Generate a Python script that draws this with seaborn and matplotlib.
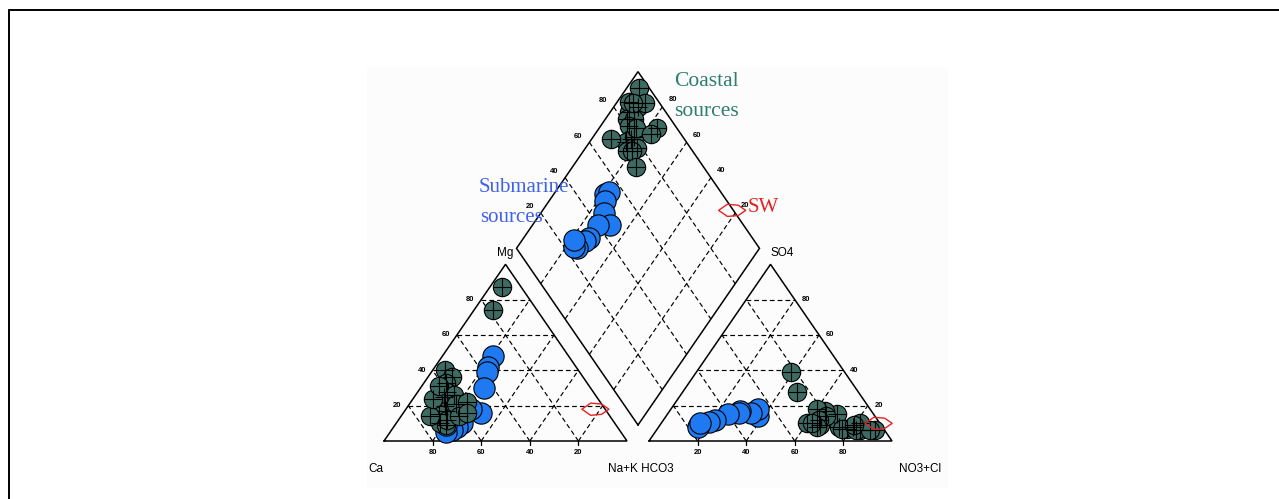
import numpy as np
import pandas as pd
import matplotlib
matplotlib.use("Agg")
import matplotlib.pyplot as plt
from matplotlib.path import Path
from matplotlib.lines import Line2D
from matplotlib.patches import Rectangle
import seaborn as sns

# ---------------------------------------------------------------------------
# Major-ion composition of the samples (% of meq/L)
# ---------------------------------------------------------------------------
coastal_ca   = [8, 18, 55, 54, 58, 60, 63, 58, 65, 66, 60, 70, 72, 70, 68, 62, 55, 74, 68, 62, 58]
coastal_mg   = [87, 74, 40, 36, 33, 28, 25, 26, 20, 17, 21, 15, 10, 9, 12, 14, 22, 14, 24, 31, 16]
coastal_nak  = [5, 8, 5, 10, 9, 12, 12, 16, 15, 17, 19, 15, 18, 21, 20, 24, 23, 12, 8, 7, 26]
coastal_hco3 = [4, 15, 12, 10, 18, 15, 19, 22, 25, 20, 24, 17, 27, 22, 25, 8, 12, 6, 30, 11, 28]
coastal_so4  = [6, 7, 8, 6, 8, 15, 17, 18, 9, 14, 12, 7, 8, 39, 28, 10, 6, 6, 10, 9, 10]
coastal_cl   = [90, 78, 80, 84, 74, 70, 64, 60, 66, 66, 64, 76, 65, 39, 47, 82, 82, 88, 60, 80, 62]

sub_ca   = [31, 36, 38, 44, 52, 55, 63, 66, 69, 72, 70]
sub_mg   = [48, 42, 39, 30, 16, 18, 10, 8, 6, 5, 9]
sub_nak  = [21, 22, 23, 26, 32, 27, 27, 26, 25, 23, 21]
sub_hco3 = [48, 46, 50, 54, 55, 60, 67, 70, 75, 76, 74]
sub_so4  = [14, 18, 16, 17, 16, 15, 12, 11, 9, 8, 10]
sub_cl   = [38, 36, 34, 29, 29, 25, 21, 19, 16, 16, 16]

# seawater reference composition
sw_mg, sw_nak = [18], [78]
sw_so4, sw_cl = [10], [89.5]

grid_values = [20, 40, 60, 80]

# ---------------------------------------------------------------------------
# Piper geometry
# ---------------------------------------------------------------------------
SQ = np.sqrt(3) / 2
GAP = 22 / 243
LX, LY = 0.5 + GAP / 2, SQ * (1 + GAP)          # left vertex of the diamond


def cation_xy(mg, nak):
    mg, nak = np.asarray(mg) / 100, np.asarray(nak) / 100
    return nak + 0.5 * mg, SQ * mg


def anion_xy(so4, cl):
    so4, cl = np.asarray(so4) / 100, np.asarray(cl) / 100
    return 1 + GAP + cl + 0.5 * so4, SQ * so4


def diamond_xy(nak, so4, cl):
    p = np.asarray(nak) / 100
    q = (np.asarray(so4) + np.asarray(cl)) / 100
    return LX + 0.5 * (p + q), LY + SQ * (q - p)


def project(group, mg, nak, so4, cl):
    rows = []
    for fn, args in ((cation_xy, (mg, nak)), (anion_xy, (so4, cl)),
                     (diamond_xy, (nak, so4, cl))):
        x, y = fn(*args)
        rows.append(pd.DataFrame({"x": x, "y": y, "group": group}))
    return pd.concat(rows, ignore_index=True)


coastal = project("Coastal", coastal_mg, coastal_nak, coastal_so4, coastal_cl)
submarine = project("Submarine", sub_mg, sub_nak, sub_so4, sub_cl)
seawater = project("SW", sw_mg, sw_nak, sw_so4, sw_cl)

# ---------------------------------------------------------------------------
# Figure: 1279 x 499 px, one axes in Piper units over the whole canvas
# ---------------------------------------------------------------------------
sns.set_style("white")
plt.rcParams["font.family"] = ["Liberation Sans", "DejaVu Sans"]

W, H = 1279, 499
X0, SX = 384, 243          # pixel of x=0, pixels per unit
Y0, SY = 441, 204          # pixel row of y=0, pixels per unit

fig = plt.figure(figsize=(W / 100, H / 100), dpi=100)
ax = fig.add_axes([0, 0, 1, 1])
ax.set_xlim(-X0 / SX, (W - X0) / SX)
ax.set_ylim((Y0 - H) / SY, Y0 / SY)
ax.axis("off")


def px(xp, yp):
    return (xp - X0) / SX, (Y0 - yp) / SY


# outer frame (top and left rules) and the faint panel behind the diagram
fig.add_artist(Line2D([8.5 / W, 8.5 / W], [0, 1 - 10 / H], color="black", lw=1.4,
                      transform=fig.transFigure))
fig.add_artist(Line2D([8.5 / W, 1], [1 - 10 / H, 1 - 10 / H], color="black", lw=1.4,
                      transform=fig.transFigure))
fig.add_artist(Rectangle((367 / W, 1 - 488 / H), (948 - 367) / W, (488 - 67) / H,
                         transform=fig.transFigure, facecolor="#fcfcfc",
                         edgecolor="none", zorder=0))

edge_kw = dict(color="black", lw=1.1, zorder=2, solid_joinstyle="miter")
dash_kw = dict(color="black", lw=0.85, ls=(0, (4, 2.6)), zorder=1)

# triangle outlines
for off in (0, 1 + GAP):
    ax.plot([off, off + 1, off + 0.5, off], [0, 0, SQ, 0], **edge_kw)
# diamond outline
B = (1 + GAP / 2, GAP * SQ)
T = (1 + GAP / 2, SQ * (2 + GAP))
L = (LX, LY)
R = (1.5 + GAP / 2, LY)
ax.plot([B[0], L[0], T[0], R[0], B[0]], [B[1], L[1], T[1], R[1], B[1]], **edge_kw)

# dashed grid lines
for v in grid_values:
    t = v / 100
    for off in (0, 1 + GAP):
        ax.plot([off + 0.5 * t, off + 1 - 0.5 * t], [SQ * t, SQ * t], **dash_kw)
        ax.plot([off + t, off + t + 0.5 * (1 - t)], [0, SQ * (1 - t)], **dash_kw)
        ax.plot([off + 1 - t, off + 0.5 * (1 - t)], [0, SQ * (1 - t)], **dash_kw)
        # short ticks under the base
        ax.plot([off + t, off + t], [0, -0.018], color="black", lw=0.9)
    x1, y1 = diamond_xy([v, v], [0, 0], [0, 100])
    x2, y2 = diamond_xy([0, 100], [0, 0], [v, v])
    ax.plot(x1, y1, **dash_kw)
    ax.plot(x2, y2, **dash_kw)

# numeric scale labels
num_kw = dict(fontsize=5.5, fontweight="bold", ha="center", va="center", color="black")
for v in grid_values:
    t = v / 100
    # Mg scale on the left edge of the cation triangle
    ax.text(0.5 * t - 0.045, SQ * t, str(v), **num_kw)
    # Ca scale under the cation triangle
    ax.text(1 - t, -0.055, str(v), **num_kw)
    # Cl scale under the anion triangle
    ax.text(1 + GAP + t, -0.055, str(v), **num_kw)
    # SO4 scale on the right edge of the anion triangle
    ax.text(2 + GAP - 0.5 * t + 0.045, SQ * t, str(v), **num_kw)
    # diamond upper edges
    ax.text(L[0] + t * (T[0] - L[0]) - 0.045, L[1] + t * (T[1] - L[1]) + 0.03,
            str(v), **num_kw)
    u = 1 - t
    ax.text(T[0] + u * (R[0] - T[0]) + 0.042, T[1] + u * (R[1] - T[1]) + 0.035,
            str(v), **num_kw)

# corner labels
lab_kw = dict(fontsize=8.5, ha="center", va="center", color="black")
ax.text(*px(505, 253), "Mg", **lab_kw)
ax.text(*px(782, 253), "SO4", **lab_kw)
ax.text(*px(376, 469), "Ca", **lab_kw)
ax.text(*px(641, 469), "Na+K HCO3", **lab_kw)
ax.text(*px(920, 469), "NO3+Cl", **lab_kw)

# sample points
TEAL = "#3d6b63"
BLUE = "#1f7af2"
sns.scatterplot(data=submarine, x="x", y="y", color=BLUE, s=235, edgecolor="black",
                linewidth=0.8, legend=False, ax=ax, zorder=3)
sns.scatterplot(data=coastal, x="x", y="y", color=TEAL, s=175, edgecolor="black",
                linewidth=0.8, legend=False, ax=ax, zorder=4)
sns.scatterplot(data=coastal, x="x", y="y", color="black", marker="+", s=150,
                linewidth=0.8, legend=False, ax=ax, zorder=5)

# seawater marker
sw_marker = Path([(-1, 0), (-0.35, 0.45), (0.45, 0.38), (1, 0), (0.45, -0.38),
                  (-0.35, -0.45), (-1, 0)], closed=True)
sns.scatterplot(data=seawater, x="x", y="y", marker=sw_marker, s=380,
                facecolors="none", edgecolor="#e52222", linewidth=1.0,
                legend=False, ax=ax, zorder=6)

# group annotations
serif = ["Liberation Serif", "DejaVu Serif"]
ax.text(*px(674, 82), "Coastal", family=serif, fontsize=15.5, color="#2f7d6d",
        ha="left", va="center")
ax.text(*px(674, 112), "sources", family=serif, fontsize=15.5, color="#2f7d6d",
        ha="left", va="center")
ax.text(*px(479, 188), "Submarine", family=serif, fontsize=15, color="#3f62ea",
        ha="left", va="center", zorder=7)
ax.text(*px(480, 217), "sources", family=serif, fontsize=15, color="#3f62ea",
        ha="left", va="center", zorder=7)
ax.text(*px(748, 207), "SW", family=serif, fontsize=15, color="#e52222",
        ha="left", va="center")

fig.savefig("out.png", dpi=100)
